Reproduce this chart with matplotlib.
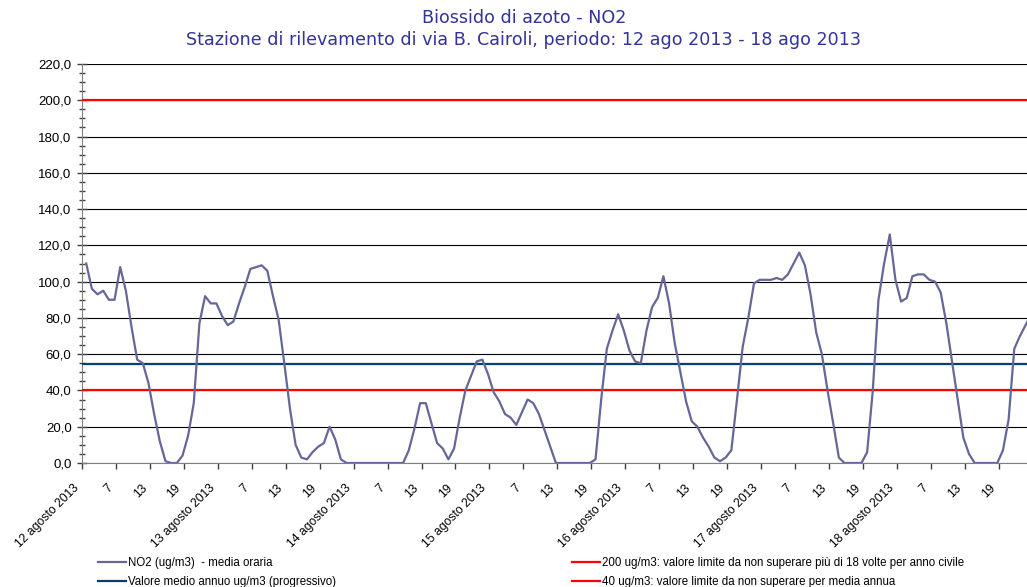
import numpy as np
import matplotlib
matplotlib.use("Agg")
import matplotlib.pyplot as plt
from matplotlib.ticker import MultipleLocator, FuncFormatter
from matplotlib.lines import Line2D
from matplotlib.transforms import ScaledTranslation

# NO2 hourly means (ug/m3), 12-18 agosto 2013, hours 1..24
day12 = [110, 96, 93, 95, 90, 90, 108, 95, 75, 57, 55, 44, 27, 12, 1, 0, 0, 4, 15, 33, 77, 92, 88, 88]
day13 = [81, 76, 78, 88, 97, 107, 108, 109, 106, 92, 79, 55, 30, 10, 3, 2, 6, 9, 11, 20, 13, 2, 0, 0]
day14 = [0, 0, 0, 0, 0, 0, 0, 0, 0, 7, 19, 33, 33, 22, 11, 8, 2, 8, 25, 40, 48, 56, 57, 49]
day15 = [39, 34, 27, 25, 21, 28, 35, 33, 27, 18, 9, 0, 0, 0, 0, 0, 0, 0, 2, 35, 63, 73, 82, 73]
day16 = [62, 56, 55, 73, 86, 91, 103, 88, 66, 50, 34, 23, 20, 14, 9, 3, 1, 3, 7, 35, 64, 80, 99, 101]
day17 = [101, 101, 102, 101, 104, 110, 116, 109, 93, 72, 60, 40, 22, 3, 0, 0, 0, 0, 6, 40, 90, 110, 126, 101]
day18 = [89, 91, 103, 104, 104, 101, 100, 94, 77, 56, 35, 14, 5, 0, 0, 0, 0, 0, 7, 24, 63, 70, 76, 82]

days = ["12 agosto 2013", "13 agosto 2013", "14 agosto 2013", "15 agosto 2013",
        "16 agosto 2013", "17 agosto 2013", "18 agosto 2013"]
hour_labels = ["7", "13", "19"]

media_annua = 54.4
limite_orario = 200
limite_annuo = 40

legend_labels = ["NO2 (ug/m3)  - media oraria",
                 "Valore medio annuo ug/m3 (progressivo)",
                 "200 ug/m3: valore limite da non superare più di 18 volte per anno civile",
                 "40 ug/m3: valore limite da non superare per media annua"]

title = ("Biossido di azoto - NO2\n"
         "Stazione di rilevamento di via B. Cairoli, periodo: 12 ago 2013 - 18 ago 2013")

C_NO2 = "#666699"
C_MEDIA = "#0b3d6e"
C_RED = "#ff0000"


def main():
    no2 = np.array(day12 + day13 + day14 + day15 + day16 + day17 + day18, dtype=float)
    x = np.arange(len(no2)) + 0.75

    fig = plt.figure(figsize=(10.27, 5.87), dpi=100)
    ax = fig.add_axes([82 / 1027, 124 / 587, 1 - 82 / 1027, 399 / 587])

    ax.set_ylim(0, 220)
    ax.set_xlim(0, 167)
    ax.yaxis.set_major_locator(MultipleLocator(20))
    ax.yaxis.set_minor_locator(MultipleLocator(5))
    ax.yaxis.set_major_formatter(FuncFormatter(lambda v, p: ("%.1f" % v).replace(".", ",")))
    ax.grid(True, axis="y", which="major", color="black", linewidth=0.8, zorder=1)
    ax.set_axisbelow(True)

    ax.plot(x, no2, color=C_NO2, linewidth=1.6, zorder=4)
    ax.axhline(media_annua, color=C_MEDIA, linewidth=1.6, zorder=3)
    ax.axhline(limite_orario, color=C_RED, linewidth=1.6, zorder=3)
    ax.axhline(limite_annuo, color=C_RED, linewidth=1.6, zorder=3)

    ticks = np.arange(0, 163, 6)
    labels = []
    for k in range(len(ticks)):
        if k % 4 == 0:
            labels.append(days[k // 4])
        else:
            labels.append(hour_labels[k % 4 - 1])
    ax.set_xticks(ticks)
    ax.set_xticklabels(labels, rotation=45, ha="right", va="top",
                       rotation_mode="anchor", fontsize=8.8, family="Liberation Sans")
    for t in ax.get_yticklabels():
        t.set_fontsize(9.5)
        t.set_family("Liberation Sans")

    ax.tick_params(axis="x", direction="out", length=4, width=1, color="#404040", pad=6)
    ax.tick_params(axis="y", which="major", direction="inout", length=7, width=1, color="#404040", pad=4)
    ax.tick_params(axis="y", which="minor", direction="inout", length=4, width=1, color="#404040")

    # excel puts the rotated labels a bit further left/down (after tick_params, it resets them)
    shift = ScaledTranslation(-9 / 100, -5 / 100, fig.dpi_scale_trans)
    for t in ax.get_xticklabels():
        t.set_transform(t.get_transform() + shift)

    for s in ["top", "right"]:
        ax.spines[s].set_visible(False)
    ax.spines["left"].set_color("#808080")
    ax.spines["bottom"].set_color("#808080")

    fig.text(524 / 1027, 1 - 9 / 587, title, ha="center", va="top", color="#333399",
             fontsize=12.6, family="DejaVu Sans", linespacing=1.3)

    h1 = [Line2D([], [], color=C_NO2, lw=1.6), Line2D([], [], color=C_MEDIA, lw=1.6)]
    h2 = [Line2D([], [], color=C_RED, lw=1.6), Line2D([], [], color=C_RED, lw=1.6)]
    common = dict(loc="upper left", frameon=False, borderpad=0, borderaxespad=0,
                  handlelength=2.4, handletextpad=0.2, labelspacing=0.6,
                  prop={"family": "Liberation Sans", "size": 8.3})
    fig.legend(h1, legend_labels[:2], bbox_to_anchor=(98 / 1027, 1 - 557 / 587), **common)
    fig.legend(h2, legend_labels[2:], bbox_to_anchor=(572 / 1027, 1 - 557 / 587), **common)

    fig.savefig("out.png", dpi=100)


if __name__ == "__main__":
    main()
